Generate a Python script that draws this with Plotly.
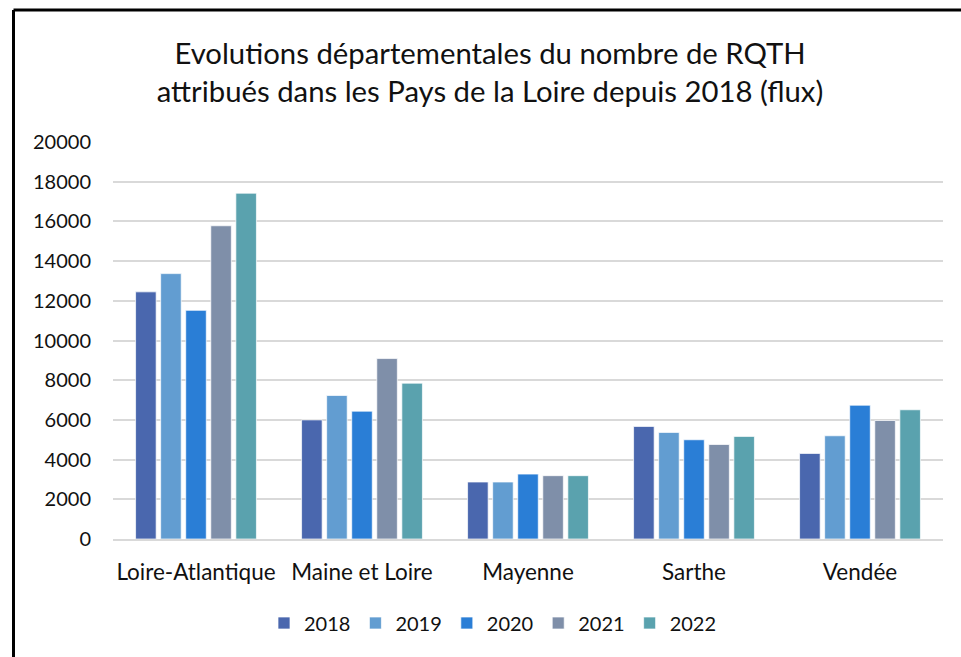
import plotly.graph_objects as go

categories = ["Loire-Atlantique", "Maine et Loire", "Mayenne", "Sarthe", "Vendée"]
years = ["2018", "2019", "2020", "2021", "2022"]
v2018 = [12450, 6000, 2870, 5670, 4310]
v2019 = [13370, 7230, 2870, 5370, 5200]
v2020 = [11520, 6440, 3270, 5000, 6740]
v2021 = [15780, 9090, 3190, 4760, 5970]
v2022 = [17420, 7850, 3190, 5170, 6510]
series = [v2018, v2019, v2020, v2021, v2022]
colors = ["#4A67AE", "#629DD1", "#2A7ED6", "#7F8FA9", "#5AA2AE"]

W, H = 961, 657
L, R, T, B = 113, 18, 142, 118
pw, ph = W - L - R, H - T - B

fig = go.Figure()
for y, vals, c in zip(years, series, colors):
    fig.add_trace(go.Bar(
        name=y, x=categories, y=vals,
        marker=dict(color=c, line=dict(color="rgba(255,255,255,0.7)", width=1)),
    ))

font_family = "Lato, 'Open Sans', sans-serif"

fig.update_layout(
    width=W, height=H,
    margin=dict(l=L, r=R, t=T, b=B, pad=0),
    paper_bgcolor="white", plot_bgcolor="white",
    barmode="group", bargap=0.245, bargroupgap=0.18,
    font=dict(family=font_family, size=20, color="#111111"),
    title=dict(
        text="Evolutions départementales du nombre de RQTH<br>attribués dans les Pays de la Loire depuis 2018 (flux)",
        x=490 / W, xanchor="center", xref="container",
        y=1 - 64 / H, yanchor="top", yref="container",
        font=dict(family=font_family, size=29.3, color="#111111"),
    ),
    xaxis=dict(
        showgrid=False, showline=True, linecolor="#d9d9d9", linewidth=1.5,
        ticks="", tickfont=dict(size=22.5), ticklabelstandoff=12,
    ),
    yaxis=dict(
        range=[0, 20000], dtick=2000, showgrid=True, gridcolor="#d9d9d9",
        gridwidth=1.5, zeroline=False, showline=False, ticks="",
        tickfont=dict(size=20), ticklabelstandoff=21, tickformat="d",
    ),
    legend=dict(
        orientation="h", x=(493 - L) / pw, xanchor="center",
        y=-(623 - (T + ph)) / ph, yanchor="middle",
        font=dict(size=20), itemwidth=30, traceorder="normal",
    ),
    showlegend=True,
)

# outer chart frame (left and top edges visible in the reference)
x_left = (13.5 - L) / pw
y_top = 1 + (T - 10) / ph
fig.add_shape(type="line", xref="paper", yref="paper", x0=x_left, x1=x_left,
              y0=y_top, y1=-(H - T - ph + 10) / ph, line=dict(color="black", width=3))
fig.add_shape(type="line", xref="paper", yref="paper", x0=x_left, x1=(W + 10 - L) / pw,
              y0=y_top, y1=y_top, line=dict(color="black", width=3))

fig.write_html(
    "out.html",
    config={"displayModeBar": False},
    post_script="document.documentElement.style.margin='0';document.body.style.margin='0';"
                "document.body.style.padding='0';document.documentElement.style.overflow='hidden';",
)
